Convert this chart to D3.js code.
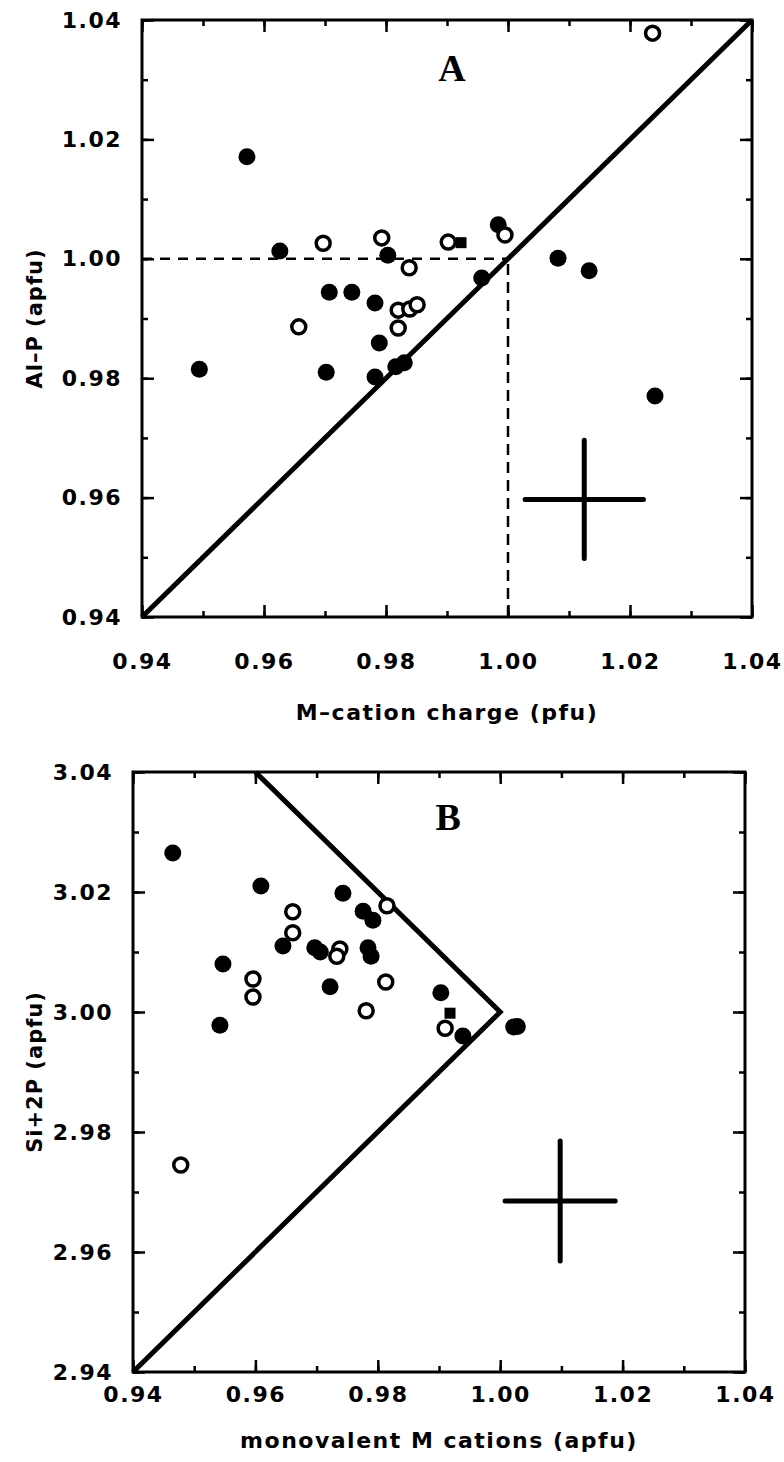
<!DOCTYPE html>
<html>
<head>
<meta charset="utf-8">
<script src="https://cdn.jsdelivr.net/npm/d3@7"></script>
<style>
  body { margin: 0; background: #fff; }
  text { font-family: "DejaVu Sans", sans-serif; font-weight: bold; fill: #000; }
</style>
</head>
<body>
<div id="chart"></div>
<script>
const WIDTH = 784;
const HEIGHT = 1462;

// panel A : Al-P vs M-cation charge
const A_X_TICKS = [0.94, 0.96, 0.98, 1.00, 1.02, 1.04];
const A_Y_TICKS = [0.94, 0.96, 0.98, 1.00, 1.02, 1.04];
const A_FILLED = [
  [0.9572, 1.0171], [0.9494, 0.9815], [0.9626, 1.0013], [0.9803, 1.0006],
  [0.9707, 0.9944], [0.9744, 0.9944], [0.9782, 0.9926], [0.9789, 0.9859],
  [0.9702, 0.9810], [0.9782, 0.9802], [0.9816, 0.9819], [0.9830, 0.9826],
  [0.9984, 1.0057], [0.9957, 0.9968], [1.0082, 1.0001], [1.0133, 0.9980],
  [1.0241, 0.9770]
];
const A_OPEN = [
  [1.0237, 1.0378], [0.9697, 1.0026], [0.9793, 1.0035], [0.9838, 0.9985],
  [0.9820, 0.9914], [0.9839, 0.9916], [0.9851, 0.9923], [0.9820, 0.9884],
  [0.9657, 0.9886], [0.9995, 1.0040], [0.9902, 1.0028]
];
const A_SQUARE = [[0.9923, 1.0027]];
const A_LINE = [[0.94, 0.94], [1.04, 1.04]];
const A_DASH_H = [[0.94, 1.00], [1.00, 1.00]];
const A_DASH_V = [[1.00, 0.94], [1.00, 1.00]];
const A_ERR = [1.0125, 0.9597, 0.0097, 0.0099];

// panel B : Si+2P vs monovalent M cations
const B_X_TICKS = [0.94, 0.96, 0.98, 1.00, 1.02, 1.04];
const B_Y_TICKS = [2.94, 2.96, 2.98, 3.00, 3.02, 3.04];
const B_FILLED = [
  [0.9465, 3.0265], [0.9609, 3.0210], [0.9743, 3.0198], [0.9776, 3.0168],
  [0.9792, 3.0153], [0.9645, 3.0110], [0.9697, 3.0107], [0.9706, 3.0100],
  [0.9784, 3.0107], [0.9789, 3.0093], [0.9547, 3.0080], [0.9722, 3.0042],
  [0.9542, 2.9978], [0.9903, 3.0032], [0.9939, 2.9960], [1.0022, 2.9975],
  [1.0028, 2.9976]
];
const B_OPEN = [
  [0.9815, 3.0177], [0.9661, 3.0167], [0.9661, 3.0132], [0.9738, 3.0105],
  [0.9733, 3.0093], [0.9596, 3.0055], [0.9596, 3.0025], [0.9813, 3.0050],
  [0.9781, 3.0002], [0.9910, 2.9973], [0.9478, 2.9745]
];
const B_SQUARE = [[0.9918, 2.9998]];
const B_LINE = [[0.96, 3.04], [1.00, 3.00], [0.94, 2.94]];
const B_ERR = [1.0098, 2.9685, 0.0090, 0.0100];

const svg = d3.select('#chart').append('svg')
  .attr('width', WIDTH)
  .attr('height', HEIGHT);

svg.append('rect').attr('width', WIDTH).attr('height', HEIGHT).attr('fill', '#fff');

const minorOf = ticks => d3.range(0, 11).map(i => ticks[0] + i * 0.01);

function drawPanel(p) {
  const g = svg.append('g').attr('transform', `translate(${p.left},${p.top})`);
  const x = d3.scaleLinear().domain(p.xDomain).range([0, p.w]);
  const y = d3.scaleLinear().domain(p.yDomain).range([p.h, 0]);

  // inward ticks on every side: minor every 0.01, major every 0.02
  const sides = [
    [d3.axisBottom(x), `translate(0,${p.h})`, p.xTicks, p.xPad],
    [d3.axisTop(x), 'translate(0,0)', p.xTicks, 0],
    [d3.axisLeft(y), 'translate(0,0)', p.yTicks, 20],
    [d3.axisRight(y), `translate(${p.w},0)`, p.yTicks, 0]
  ];
  sides.forEach(([axis, tr, ticks, pad]) => {
    g.append('g').attr('transform', tr)
      .call(axis.tickValues(minorOf(ticks)).tickSize(-6).tickFormat(''))
      .call(a => a.select('.domain').remove())
      .selectAll('line').attr('stroke-width', 2.5);
    const maj = g.append('g').attr('transform', tr)
      .call(axis.tickValues(ticks).tickSize(-12).tickPadding(pad)
        .tickFormat(pad ? d3.format('.2f') : ''))
      .call(a => a.select('.domain').remove());
    maj.selectAll('line').attr('stroke-width', 2.5);
    maj.selectAll('text').attr('font-size', 22).attr('font-family', null)
      .attr('letter-spacing', 1.5);
  });

  g.append('rect')
    .attr('width', p.w).attr('height', p.h)
    .attr('fill', 'none').attr('stroke', '#000').attr('stroke-width', 3);

  const line = d3.line().x(d => x(d[0])).y(d => y(d[1]));

  (p.dashes || []).forEach(([pts, dash]) => {
    g.append('path').attr('d', line(pts))
      .attr('fill', 'none').attr('stroke', '#000')
      .attr('stroke-width', 2.5).attr('stroke-dasharray', dash);
  });

  g.append('path').attr('d', line(p.refLine))
    .attr('fill', 'none').attr('stroke', '#000')
    .attr('stroke-width', 5).attr('stroke-linejoin', 'miter');

  // error cross
  const [ex, ey, edx, edy] = p.err;
  g.append('path')
    .attr('d', line([[ex - edx, ey], [ex + edx, ey]]) + line([[ex, ey - edy], [ex, ey + edy]]))
    .attr('fill', 'none').attr('stroke', '#000')
    .attr('stroke-width', 5).attr('stroke-linecap', 'round');

  g.selectAll('.filled').data(p.filled).join('circle')
    .attr('cx', d => x(d[0])).attr('cy', d => y(d[1])).attr('r', 8.5)
    .attr('fill', '#000');

  g.selectAll('.open').data(p.open).join('circle')
    .attr('cx', d => x(d[0])).attr('cy', d => y(d[1])).attr('r', 7)
    .attr('fill', '#fff').attr('stroke', '#000').attr('stroke-width', 3.5);

  g.selectAll('.sq').data(p.square).join('rect')
    .attr('x', d => x(d[0]) - 5.5).attr('y', d => y(d[1]) - 5.5)
    .attr('width', 11).attr('height', 11).attr('fill', '#000');

  g.append('text')
    .attr('x', x(p.letter[1])).attr('y', y(p.letter[2]))
    .attr('text-anchor', 'middle').attr('dy', '0.35em')
    .style('font-family', '"Liberation Serif", serif')
    .attr('font-size', 38)
    .text(p.letter[0]);

  g.append('text')
    .attr('x', p.w / 2).attr('y', p.h + p.titlePad).attr('dy', '0.35em')
    .attr('text-anchor', 'middle').attr('font-size', 22)
    .attr('letter-spacing', 1.5)
    .text(p.xTitle);

  g.append('text')
    .attr('transform', `translate(${-p.left + 35},${p.h / 2}) rotate(-90)`)
    .attr('dy', '0.35em').attr('text-anchor', 'middle').attr('font-size', 21)
    .attr('letter-spacing', 1)
    .text(p.yTitle);
}

drawPanel({
  left: 142, top: 20, w: 610, h: 597,
  xDomain: [0.94, 1.04], yDomain: [0.94, 1.04],
  xTicks: A_X_TICKS, yTicks: A_Y_TICKS, xPad: 36, titlePad: 95,
  filled: A_FILLED, open: A_OPEN, square: A_SQUARE,
  refLine: A_LINE, dashes: [[A_DASH_H, '10,8'], [A_DASH_V, '11,7']],
  err: A_ERR, letter: ['A', 0.9908, 1.032],
  xTitle: 'M\u2013cation charge (pfu)', yTitle: 'Al\u2013P (apfu)'
});

drawPanel({
  left: 133, top: 772, w: 612, h: 600,
  xDomain: [0.94, 1.04], yDomain: [2.94, 3.04],
  xTicks: B_X_TICKS, yTicks: B_Y_TICKS, xPad: 14, titlePad: 68,
  filled: B_FILLED, open: B_OPEN, square: B_SQUARE,
  refLine: B_LINE, dashes: [],
  err: B_ERR, letter: ['B', 0.9915, 3.0325],
  xTitle: 'monovalent M cations (apfu)', yTitle: 'Si+2P (apfu)'
});
</script>
</body>
</html>
